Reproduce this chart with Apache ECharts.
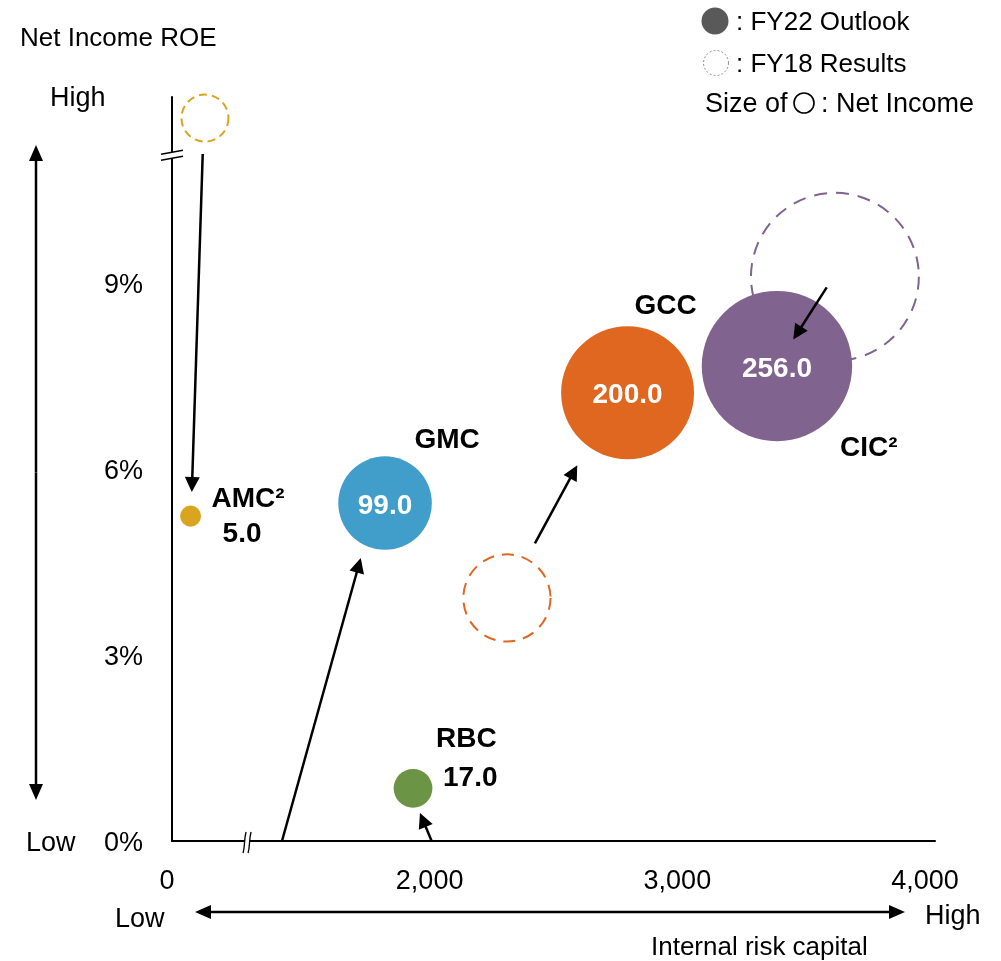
<!DOCTYPE html>
<html><head><meta charset="utf-8">
<script src="https://cdn.jsdelivr.net/npm/echarts@6/dist/echarts.min.js"></script>
<style>html,body{margin:0;padding:0;background:#fff}#c{width:1001px;height:961px}</style>
</head><body><div id="c"></div>
<script>
// ---------------- data ----------------
const segments = ['AMC', 'GMC', 'RBC', 'GCC', 'CIC'];
const segmentLabels = ['AMC²', 'GMC', 'RBC', 'GCC', 'CIC²'];
// FY22 Outlook: internal risk capital, net income ROE (%), net income
const fy22Capital = [1035, 1820, 1933, 2799, 3402];
const fy22ROE = [5.24, 5.45, 0.85, 7.23, 7.66];
const fy22NetIncome = [5.0, 99.0, 17.0, 200.0, 256.0];
// FY18 Results (GMC and RBC lie below the plotted range)
const fy18Capital = [1093, null, null, 2312, 3636];
const fy18ROE = [11.66, null, null, 3.92, 9.10];
const fy18NetIncome = [25, null, null, 86, 319];
// arrows (FY18 -> FY22)
const arrowFromCapital = [1084, 1404, 2008, 2425, 3603];
const arrowFromROE = [11.08, 0, 0, 4.80, 8.93];
const arrowToCapital = [1040, 1722, 1961, 2596, 3468];
const arrowToROE = [5.63, 4.565, 0.45, 6.06, 8.09];
// axes
const xTickValues = [960, 2000, 3000, 4000];
const xTickLabels = ['0', '2,000', '3,000', '4,000'];
const yTickValues = [0, 3, 6, 9];
const yTickLabels = ['0%', '3%', '6%', '9%'];
const xBreakAt = 1263;
const yBreakAt = 11.06;

// ---------------- styles ----------------
const FONT = "'Liberation Sans', Arial, Helvetica, sans-serif";
const colors = {AMC:'#D9A521', GMC:'#419DC9', RBC:'#6B9544', GCC:'#E0671F', CIC:'#80648F'};
const dashes = {AMC:[8,5], GCC:[12,8], CIC:[13,9]};
const sizeOf = v => 2 * 4.7 * Math.sqrt(v);
// label layout (offsets from bubble centre, px)
const nameLayout = {
  AMC:{offset:[21,-17], align:'left'},
  GMC:{offset:[62,-63], align:'center'},
  RBC:{offset:[23,-49], align:'left'},
  GCC:{offset:[38,-86], align:'center'},
  CIC:{offset:[63,82], align:'left'}
};
const valueOutside = {
  AMC:{offset:[32,18], align:'left'},
  RBC:{offset:[30,-10], align:'left'}
};

const chart = echarts.init(document.getElementById('c'), null, {renderer:'canvas'});

const fy18Data = [];
segments.forEach((s,i) => {
  if (fy18Capital[i] == null) return;
  fy18Data.push({
    name: s,
    value: [fy18Capital[i], fy18ROE[i], fy18NetIncome[i]],
    itemStyle: {color:'rgba(0,0,0,0)', borderColor: colors[s], borderWidth: 2, borderType: dashes[s], opacity:1}
  });
});

const fy22Data = segments.map((s,i) => {
  const item = {
    name: s,
    value: [fy22Capital[i], fy22ROE[i], fy22NetIncome[i]],
    itemStyle: {color: colors[s], opacity:1}
  };
  if (valueOutside[s]) {
    item.label = {position:'inside', offset: valueOutside[s].offset, align: valueOutside[s].align,
      color:'#000', fontSize:28, fontWeight:'bold'};
  }
  return item;
});

const nameData = segments.map((s,i) => ({
  name: s,
  value: [fy22Capital[i], fy22ROE[i]],
  label: {offset: nameLayout[s].offset, align: nameLayout[s].align, formatter: segmentLabels[i]}
}));

const arrowData = segments.map((s,i) => [arrowFromCapital[i], arrowFromROE[i], arrowToCapital[i], arrowToROE[i]]);

function arrowShape(p1, p2, hl, hw, lw) {
  const dx = p2[0]-p1[0], dy = p2[1]-p1[1];
  const len = Math.hypot(dx, dy);
  const ux = dx/len, uy = dy/len;
  const bx = p2[0]-ux*hl, by = p2[1]-uy*hl;
  return [
    {type:'line', shape:{x1:p1[0], y1:p1[1], x2:bx+ux*2, y2:by+uy*2}, style:{stroke:'#000', lineWidth:lw}},
    {type:'polygon', shape:{points:[[p2[0],p2[1]],[bx-uy*hw, by+ux*hw],[bx+uy*hw, by-ux*hw]]}, style:{fill:'#000'}}
  ];
}

const option = {
  backgroundColor:'#fff',
  animation:false,
  textStyle:{fontFamily: FONT},
  grid:{left:172, right:66, top:97, bottom:120, containLabel:false},
  xAxis:{
    type:'value', min:960, max:4040,
    axisLine:{show:true, lineStyle:{color:'#000', width:2}},
    axisTick:{show:false}, splitLine:{show:false},
    axisLabel:{customValues: xTickValues, margin:27, fontSize:27, color:'#000', fontFamily:FONT,
      rich:{z:{fontSize:27, color:'#000', fontFamily:FONT, padding:[0,10,0,0]}},
      formatter: v => { const k = xTickValues.indexOf(v); return k < 0 ? '' : (k === 0 ? '{z|' + xTickLabels[k] + '}' : xTickLabels[k]); }}
  },
  yAxis:{
    type:'value', min:0, max:12,
    axisLine:{show:true, lineStyle:{color:'#000', width:2}},
    axisTick:{show:false}, splitLine:{show:false},
    axisLabel:{customValues: yTickValues, margin:29, fontSize:27, color:'#000', fontFamily:FONT,
      verticalAlign:'top', lineHeight:6,
      formatter: v => { const k = yTickValues.indexOf(v); return k >= 0 ? yTickLabels[k] : ''; }}
  },
  series:[
    {
      type:'scatter', name:'FY18 Results', z:2,
      symbolSize: d => sizeOf(d[2]),
      itemStyle:{opacity:1},
      data: fy18Data, silent:true
    },
    {
      type:'scatter', name:'FY22 Outlook', z:3,
      symbolSize: d => sizeOf(d[2]),
      itemStyle:{opacity:1},
      data: fy22Data,
      label:{show:true, position:'inside', offset:[0,3], color:'#fff', fontSize:28, fontWeight:'bold', fontFamily:FONT,
        formatter: p => p.value[2].toFixed(1)}
    },
    {
      type:'scatter', name:'names', z:4, symbolSize:1,
      itemStyle:{color:'rgba(0,0,0,0)', opacity:1},
      data: nameData,
      label:{show:true, position:'inside', color:'#000', fontSize:28, fontWeight:'bold', fontFamily:FONT}
    },
    {
      type:'custom', name:'arrows', z:5,
      data: arrowData,
      renderItem: (params, api) => {
        const p1 = api.coord([api.value(0), api.value(1)]);
        const p2 = api.coord([api.value(2), api.value(3)]);
        return {type:'group', children: arrowShape(p1, p2, 15, 7.5, 2.5)};
      }
    }
  ]
};
chart.setOption(option);

// ---------------- decorations ----------------
function txt(text, x, y, size, opts) {
  opts = opts || {};
  const st = {text:text, fill:'#000', fontSize:size, fontFamily:FONT, fontWeight:opts.weight||'normal',
      align:opts.align||'left', verticalAlign:'middle', textAlign:opts.align||'left', textVerticalAlign:'middle'};
  return {type:'text', x:x, y:y + 2, z:10, style:st};
}
const g = [];
g.push(txt('Net Income ROE', 20, 37, 26));
g.push(txt('High', 50, 97, 27));
g.push(txt('Low', 26, 842, 27));
g.push(txt('Low', 115, 918, 27));
g.push(txt('High', 925, 915, 27));
g.push(txt('Internal risk capital', 651, 946, 26));
// double arrows
function dbl(p1, p2) {
  const mid = [(p1[0]+p2[0])/2, (p1[1]+p2[1])/2];
  return arrowShape(mid, p2, 16, 7, 2.5).concat(arrowShape(mid, p1, 16, 7, 2.5));
}
dbl([36,145],[36,800]).forEach(e => g.push(e));
dbl([195,912],[905,912]).forEach(e => g.push(e));
// legend
g.push({type:'circle', shape:{cx:715, cy:21, r:13.5}, style:{fill:'#595959'}});
g.push(txt(': FY22 Outlook', 736, 21, 26));
g.push({type:'circle', shape:{cx:716, cy:63, r:12.5}, style:{fill:'none', stroke:'#8c8c8c', lineWidth:1, lineDash:[2,2]}});
g.push(txt(': FY18 Results', 736, 63, 26));
g.push(txt('Size of ', 705, 103, 27));
g.push({type:'circle', shape:{cx:804, cy:103, r:10}, style:{fill:'none', stroke:'#000', lineWidth:1.6}});
g.push(txt(': Net Income', 821, 103, 27));
// axis breaks
const yb = chart.convertToPixel({gridIndex:0}, [960, yBreakAt]);
g.push({type:'polygon', z:10, shape:{points:[[yb[0]-11,yb[1]-1],[yb[0]+11,yb[1]-5],[yb[0]+11,yb[1]+1],[yb[0]-11,yb[1]+5]]}, style:{fill:'#fff'}});
g.push({type:'line', z:11, shape:{x1:yb[0]-11,y1:yb[1]-1,x2:yb[0]+11,y2:yb[1]-5}, style:{stroke:'#000', lineWidth:1.5}});
g.push({type:'line', z:11, shape:{x1:yb[0]-11,y1:yb[1]+5,x2:yb[0]+11,y2:yb[1]+1}, style:{stroke:'#000', lineWidth:1.5}});
const xb = chart.convertToPixel({gridIndex:0}, [xBreakAt, 0]);
g.push({type:'polygon', z:10, shape:{points:[[xb[0]-1,xb[1]-9],[xb[0]+4,xb[1]-9],[xb[0]+1,xb[1]+12],[xb[0]-4,xb[1]+12]]}, style:{fill:'#fff'}});
g.push({type:'bezierCurve', z:11, shape:{x1:xb[0]-1,y1:xb[1]-9,cpx1:xb[0]-3,cpy1:xb[1]-2,x2:xb[0]-4,y2:xb[1]+12,cpx2:xb[0]-2,cpy2:xb[1]+5}, style:{stroke:'#000', lineWidth:1.3, fill:null}});
g.push({type:'bezierCurve', z:11, shape:{x1:xb[0]+4,y1:xb[1]-9,cpx1:xb[0]+2,cpy1:xb[1]-2,x2:xb[0]+1,y2:xb[1]+12,cpx2:xb[0]+3,cpy2:xb[1]+5}, style:{stroke:'#000', lineWidth:1.3, fill:null}});
chart.setOption({graphic:{elements:g}});
</script>
</body></html>
